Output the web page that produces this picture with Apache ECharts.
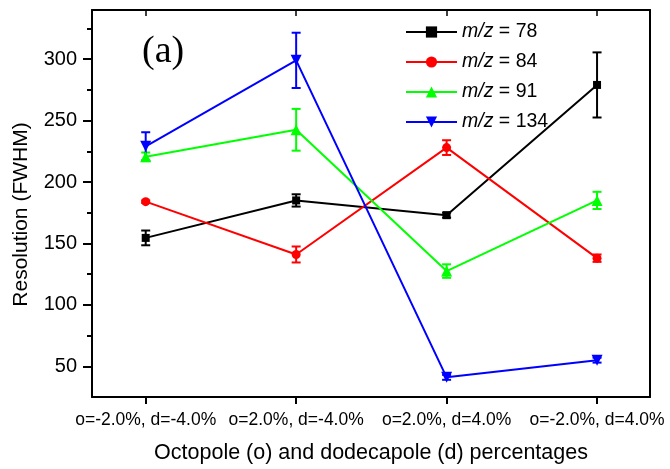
<!DOCTYPE html>
<html>
<head>
<meta charset="utf-8">
<script src="https://cdn.jsdelivr.net/npm/echarts@6/dist/echarts.min.js"></script>
<style>
  html, body { margin: 0; padding: 0; background: #fff; }
  #chart { width: 670px; height: 469px; }
</style>
</head>
<body>
<div id="chart"></div>
<script>
// Electrode settings on the x axis
const categories = ['o=-2.0%, d=-4.0%', 'o=2.0%, d=-4.0%', 'o=2.0%, d=4.0%', 'o=-2.0%, d=4.0%'];

// Resolution (FWHM) per m/z and its uncertainty
const mz78 = [154.5, 185, 173, 279];
const mz78Err = [6, 5, 2, 26.5];
const mz84 = [184, 141, 228, 138];
const mz84Err = [1, 6.5, 6, 3];
const mz91 = [220.5, 242.5, 127.5, 185];
const mz91Err = [3.5, 17, 5.5, 7];
const mz134 = [229, 299, 41, 55];
const mz134Err = [11.5, 22.5, 2, 2];

const yMajorTicks = [50, 100, 150, 200, 250, 300];
const yMinorTicks = [75, 125, 175, 225, 275, 325];

const seriesDefs = [
  { mz: '78', values: mz78, errors: mz78Err, color: '#000000', symbol: 'rect', size: 8 },
  { mz: '84', values: mz84, errors: mz84Err, color: '#ff0000', symbol: 'circle', size: 9 },
  { mz: '91', values: mz91, errors: mz91Err, color: '#00ff00', symbol: 'triangle', size: 11 },
  { mz: '134', values: mz134, errors: mz134Err, color: '#0000ff', symbol: 'path://M0,0 L10,0 L5,9 Z', size: 11 }
];

const FONT = 'Arial, "Liberation Sans", sans-serif';

function errorBarRenderer(color) {
  return function (params, api) {
    const x = api.value(0);
    const lo = api.coord([x, api.value(1)]);
    const hi = api.coord([x, api.value(2)]);
    const half = 4.5;
    const style = { stroke: color, lineWidth: 2 };
    return {
      type: 'group',
      children: [
        { type: 'line', shape: { x1: lo[0], y1: lo[1], x2: hi[0], y2: hi[1] }, style },
        { type: 'line', shape: { x1: lo[0] - half, y1: lo[1], x2: lo[0] + half, y2: lo[1] }, style },
        { type: 'line', shape: { x1: hi[0] - half, y1: hi[1], x2: hi[0] + half, y2: hi[1] }, style }
      ]
    };
  };
}

const series = [];
seriesDefs.forEach(function (d) {
  const name = 'm/z = ' + d.mz;
  series.push({
    type: 'custom',
    name: name + ' error',
    renderItem: errorBarRenderer(d.color),
    data: d.values.map(function (v, i) { return [i, v - d.errors[i], v + d.errors[i]]; }),
    encode: { x: 0, y: [1, 2] },
    z: 3,
    silent: true
  });
  series.push({
    type: 'line',
    name: name,
    data: d.values.map(function (v, i) { return [i, v]; }),
    symbol: d.symbol,
    symbolSize: d.size,
    showAllSymbol: true,
    lineStyle: { color: d.color, width: 2 },
    itemStyle: { color: d.color, borderWidth: 0 },
    z: 4,
    animation: false
  });
});

const xMin = -0.357, xMax = 3.352;
const yMin = 25, yMax = 340;

const chart = echarts.init(document.getElementById('chart'), null, { renderer: 'canvas' });
chart.setOption({
  animation: false,
  backgroundColor: '#ffffff',
  grid: { left: 92, right: 20, top: 10, bottom: 71, containLabel: false },
  legend: {
    orient: 'vertical',
    left: 400,
    top: 17,
    itemWidth: 51,
    itemHeight: 14,
    itemGap: 10,
    data: seriesDefs.map(function (d) { return 'm/z = ' + d.mz; }),
    formatter: function (name) {
      return '{i|m/z}{n|' + name.slice(3) + '}';
    },
    textStyle: {
      fontFamily: FONT,
      fontSize: 19.5,
      color: '#000',
      rich: {
        i: { fontFamily: FONT, fontSize: 19.5, fontStyle: 'italic', color: '#000' },
        n: { fontFamily: FONT, fontSize: 19.5, color: '#000' }
      }
    }
  },
  graphic: [
    {
      type: 'text',
      left: 142,
      top: 33,
      style: { text: '(a)', font: '38px "Liberation Serif", "Times New Roman", serif', fill: '#000' }
    }
  ],
  xAxis: [
    {
      type: 'value',
      min: xMin,
      max: xMax,
      name: 'Octopole (o) and dodecapole (d) percentages',
      nameLocation: 'middle',
      nameGap: 45,
      nameTextStyle: { fontFamily: FONT, fontSize: 21.5, color: '#000' },
      axisLine: { onZero: false, lineStyle: { color: '#000', width: 2 } },
      axisTick: { customValues: [0, 1, 2, 3], length: 7, lineStyle: { color: '#000', width: 2 } },
      axisLabel: {
        customValues: [0, 1, 2, 3],
        margin: 14,
        fontFamily: FONT,
        fontSize: 17.5,
        color: '#000',
        formatter: function (v) { return categories[Math.round(v)]; }
      },
      splitLine: { show: false }
    },
    {
      type: 'value',
      position: 'top',
      min: xMin,
      max: xMax,
      axisLine: { onZero: false, lineStyle: { color: '#000', width: 2 } },
      axisTick: { inside: true, customValues: [0, 1, 2, 3], length: 6, lineStyle: { color: '#000', width: 1.5 } },
      axisLabel: { show: false },
      splitLine: { show: false }
    }
  ],
  yAxis: [
    {
      type: 'value',
      min: yMin,
      max: yMax,
      name: 'Resolution (FWHM)',
      nameLocation: 'middle',
      nameGap: 60,
      nameTextStyle: { fontFamily: FONT, fontSize: 21, color: '#000', padding: [0, 22, 0, 0] },
      axisLine: { onZero: false, lineStyle: { color: '#000', width: 2 } },
      axisTick: { customValues: yMajorTicks, length: 9, lineStyle: { color: '#000', width: 2 } },
      axisLabel: {
        customValues: yMajorTicks,
        margin: 15,
        fontFamily: FONT,
        fontSize: 20,
        color: '#000'
      },
      splitLine: { show: false }
    },
    {
      type: 'value',
      position: 'left',
      offset: 0,
      min: yMin,
      max: yMax,
      axisLine: { show: false, onZero: false },
      axisTick: { customValues: yMinorTicks, length: 5, lineStyle: { color: '#000', width: 2 } },
      axisLabel: { show: false },
      splitLine: { show: false }
    },
    {
      type: 'value',
      position: 'right',
      min: yMin,
      max: yMax,
      axisLine: { onZero: false, lineStyle: { color: '#000', width: 2 } },
      axisTick: { show: false },
      axisLabel: { show: false },
      splitLine: { show: false }
    }
  ],
  series: series
});
</script>
</body>
</html>
